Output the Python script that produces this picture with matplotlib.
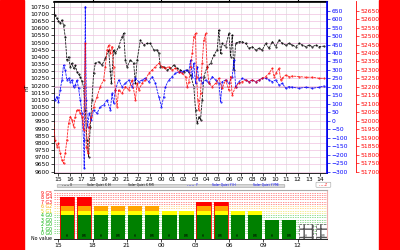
import numpy as np
import matplotlib
matplotlib.use("Agg")
import matplotlib.pyplot as plt
from matplotlib.patches import Rectangle, FancyBboxPatch
from matplotlib.lines import Line2D
from matplotlib.ticker import FuncFormatter

# Magnetometer components (hours from midnight of first day)
x_time = [14.57, 14.72, 14.87, 15.01, 15.16, 15.31, 15.45, 15.60, 15.75, 15.89,
          16.04, 16.19, 16.33, 16.48, 16.63, 16.77, 16.92, 17.07, 17.21, 17.36,
          17.51, 17.65, 17.80, 17.95, 18.09, 18.24, 18.53, 18.83, 19.12, 19.41,
          19.56, 19.65, 19.85, 20.00, 20.29, 20.59, 20.73, 20.88, 21.03, 21.32,
          21.61, 21.76, 21.91, 22.20, 22.49, 22.79, 23.08, 23.37, 23.67, 23.81,
          23.96, 24.25, 24.55, 24.84, 25.13, 25.43, 25.72, 26.01, 26.31, 26.60,
          26.89, 27.04, 27.19, 27.33, 27.48, 27.62, 27.77, 28.06, 28.36, 28.65,
          28.94, 29.09, 29.24, 29.38, 29.68, 29.97, 30.12, 30.26, 30.41, 30.56,
          30.85, 31.14, 31.44, 31.73, 32.02, 32.32, 32.61, 32.90, 33.20, 33.49,
          33.78, 34.08, 34.37, 34.66, 34.96, 35.25, 35.54, 35.84, 36.13, 36.42,
          36.72, 37.01, 37.30, 37.60, 37.89, 38.33]
x_nt = [10715, 10690, 10668, 10650, 10633, 10657, 10622, 10540, 10378, 10400,
        10331, 10355, 10320, 10340, 10297, 10280, 10262, 10230, 10192, 10029,
        9820, 9704, 9913, 10099, 10285, 10355, 10366, 10343, 10389, 10448,
        10300, 10215, 10448, 10424, 10471, 10540, 10564, 10378, 10331, 10378,
        10355, 10215, 10378, 10517, 10482, 10494, 10494, 10448, 10448, 10424,
        10331, 10331, 10308, 10320, 10343, 10320, 10308, 10297, 10308, 10273,
        10192, 10029, 9936, 9983, 9960, 10099, 10262, 10331, 10355, 10413,
        10448, 10587, 10424, 10494, 10471, 10564, 10401, 10552, 10308, 10494,
        10506, 10506, 10494, 10459, 10471, 10448, 10459, 10448, 10494, 10459,
        10506, 10471, 10517, 10494, 10482, 10494, 10482, 10471, 10494, 10482,
        10471, 10482, 10471, 10482, 10471, 10475]

y_time = [14.57, 14.72, 14.87, 15.01, 15.16, 15.31, 15.45, 15.60, 15.75, 15.89,
          16.04, 16.19, 16.33, 16.48, 16.63, 16.77, 16.92, 17.07, 17.21, 17.27,
          17.36, 17.45, 17.57, 17.71, 17.89, 18.09, 18.39, 18.68, 18.97, 19.27,
          19.56, 19.71, 19.85, 20.00, 20.29, 20.59, 20.88, 21.17, 21.47, 21.76,
          22.05, 22.35, 22.64, 22.93, 23.23, 23.52, 23.81, 24.05, 24.25, 24.40,
          24.69, 24.99, 25.28, 25.57, 25.87, 26.16, 26.45, 26.60, 26.75, 26.89,
          27.04, 27.19, 27.33, 27.48, 27.62, 27.92, 28.21, 28.50, 28.80, 29.09,
          29.24, 29.38, 29.68, 29.97, 30.26, 30.41, 30.56, 30.85, 31.14, 31.44,
          31.73, 32.02, 32.32, 32.61, 32.90, 33.20, 33.49, 33.78, 34.08, 34.37,
          34.66, 34.96, 35.25, 35.54, 36.13, 36.72, 37.30, 37.89, 38.33]
y_nt = [152, 123, 143, 113, 182, 241, 329, 300, 241, 251,
        231, 241, 202, 211, 241, 192, 123, 44, -113, -280,
        674, 123, -34, 44, 5, 64, 44, 84, 93, 123,
        64, 162, 103, 182, 241, 202, 221, 241, 202, 251,
        231, 241, 251, 231, 261, 221, 143, 84, 143, 202,
        241, 261, 280, 290, 290, 300, 290, 359, 261, 339,
        221, 320, 241, 261, 221, 241, 221, 261, 241, 221,
        113, 231, 241, 221, 261, 359, 202, 231, 251, 241,
        231, 241, 231, 241, 251, 251, 241, 231, 241, 211,
        221, 192, 202, 198, 192, 198, 192, 198, 206]

z_time = [14.57, 14.72, 14.87, 15.01, 15.16, 15.31, 15.45, 15.60, 15.75, 15.89,
          16.04, 16.19, 16.33, 16.48, 16.63, 16.77, 16.92, 17.07, 17.21, 17.36,
          17.45, 17.60, 17.71, 17.89, 18.09, 18.39, 18.68, 18.97, 19.12, 19.27,
          19.41, 19.56, 19.71, 19.85, 20.00, 20.15, 20.29, 20.59, 20.88, 21.17,
          21.47, 21.76, 21.91, 22.05, 22.35, 22.64, 22.93, 23.23, 23.52, 23.81,
          24.10, 24.40, 24.69, 24.99, 25.28, 25.57, 25.87, 26.16, 26.31, 26.45,
          26.60, 26.75, 26.89, 27.04, 27.13, 27.24, 27.33, 27.48, 27.62, 27.77,
          27.92, 28.06, 28.21, 28.50, 28.80, 29.09, 29.38, 29.68, 29.97, 30.12,
          30.26, 30.56, 30.85, 31.14, 31.44, 31.73, 32.02, 32.32, 32.61, 32.90,
          33.20, 33.49, 33.78, 33.93, 34.08, 34.37, 34.52, 34.66, 34.96, 35.25,
          35.54, 36.13, 36.72, 37.30, 37.89, 38.33]
z_nt = [51985, 51887, 51848, 51867, 51808, 51769, 51749, 51808, 51887, 51985,
        52025, 52005, 51966, 52025, 52064, 52064, 52044, 52025, 51946, 52457,
        51848, 51808, 51966, 52025, 52084, 52143, 52202, 52241, 52320, 52418,
        52447, 52398, 52438, 52320, 52182, 52084, 52182, 52162, 52202, 52182,
        52241, 52123, 52221, 52182, 52221, 52241, 52280, 52300, 52320, 52339,
        52320, 52310, 52320, 52300, 52310, 52290, 52280, 52261, 52202, 52231,
        52320, 52398, 52497, 52516, 52261, 52123, 52064, 52162, 52339, 52477,
        52516, 52320, 52221, 52202, 52221, 52251, 52192, 52241, 52182, 52261,
        52152, 52202, 52221, 52231, 52241, 52231, 52241, 52231, 52241, 52251,
        52261, 52280, 52310, 52261, 52280, 52310, 52241, 52251, 52270, 52261,
        52264, 52261, 52257, 52257, 52251, 52251]

# Activity bars, 3-hour slots, IH and FMI estimates
bar_start = [15, 16.5, 18, 19.5, 21, 22.5, 24, 25.5, 27, 28.5, 30, 31.5, 33, 34.5, 36, 37.5]
bar_source = ["IH", "FMI"] * 8
bar_level = [8, 8, 6, 6, 6, 6, 5, 5, 7, 7, 5, 5, 3, 3, None, None]
level_labels = ["No value", "0 G0", "1 G0", "2 G0", "3 G0", "4 G0",
                "5 G1", "6 G2", "7 G3", "8 G4", "9 G5"]
level_values = [-1, 0, 1, 2, 3, 4, 5, 6, 7, 8, 9]
bar_ticks = [15, 18, 21, 24, 27, 30, 33, 36]

GREEN = "#008000"
YELLOW = "#ffff00"
ORANGE = "#ffa500"
RED = "#ff0000"
FS = 4.3


def level_color(v):
    if v < 0:
        return "black"
    if v <= 4:
        return "#00b000"
    if v <= 5:
        return "#e6d000"
    if v <= 6:
        return ORANGE
    return RED


hour_fmt = FuncFormatter(lambda v, pos: f"{int(round(v)) % 24:02d}")

fig = plt.figure(figsize=(4, 2.5), dpi=100)
fig.patches.append(Rectangle((0, 0), 0.06, 1, transform=fig.transFigure, color=RED, zorder=-1))
fig.patches.append(Rectangle((0.948, 0), 0.052, 1, transform=fig.transFigure, color=RED, zorder=-1))

xlim = (14.58, 38.6)

# --- main magnetometer panel
ax = fig.add_axes([0.134, 0.31, 0.684, 0.684])
ax.set_xlim(*xlim)
ax.set_ylim(9594, 10786)
ax.set_yticks(np.arange(9600, 10751, 50))
ax.set_xticks(np.arange(15, 38.5, 1))
ax.xaxis.set_major_formatter(hour_fmt)
ax.tick_params(labelsize=FS, length=2, width=0.5, pad=1)
ax.set_ylabel("nT", fontsize=FS, labelpad=0.5)
ax.grid(axis="y", color="#f0c0e0", lw=0.5)
ax.grid(axis="x", color="#dddddd", lw=0.5)
ax.axhline(10500, color="#c8a0c8", lw=0.6, zorder=1)
for s in ax.spines.values():
    s.set_linewidth(0.6)
ax.spines["top"].set_linewidth(1.2)
ax.plot(x_time, x_nt, color="black", lw=0.6, ls=(0, (3, 1)), marker=".", ms=1.0, zorder=3, alpha=0.9)

top = ax.secondary_xaxis("top")
top.set_xticks([18, 24, 30, 36])
top.tick_params(length=2, width=0.8, labeltop=False)

axb = ax.twinx()
axb.set_ylim(-305, 704)
axb.set_yticks(np.arange(-300, 651, 50))
axb.tick_params(labelsize=FS, length=2, width=0.5, pad=1, colors="blue")
axb.spines["right"].set_color("blue")
axb.spines["right"].set_linewidth(1.2)
axb.axhline(200, color="#c8a0c8", lw=0.6, zorder=1)
axb.plot(y_time, y_nt, color="blue", lw=0.6, ls=(0, (3, 1)), marker=".", ms=1.0, zorder=3, alpha=0.9)

axr = ax.twinx()
axr.set_ylim(51695, 52704)
axr.set_yticks(np.arange(51700, 52651, 50))
axr.spines["right"].set_position(("axes", 1.106))
axr.spines["right"].set_color(RED)
axr.spines["right"].set_linewidth(0.6)
axr.tick_params(labelsize=FS, length=2, width=0.5, pad=1, colors=RED)
axr.plot(z_time, z_nt, color=RED, lw=0.6, ls=(0, (3, 1)), marker=".", ms=1.0, zorder=3, alpha=0.85)
for a in (axb, axr):
    a.spines["left"].set_visible(False)
    a.spines["top"].set_visible(False)
    a.spines["bottom"].set_visible(False)

# legend strip under the time axis
LEG_Y = 0.262
fig.patches.append(FancyBboxPatch((0.145, 0.252), 0.565, 0.008, boxstyle="round,pad=0.002",
                                  transform=fig.transFigure, fc="#d8d8d8", ec="#a0a0a0", lw=0.4))
legend_lines = [(0.155, 0.172, "black"), (0.467, 0.484, "blue"), (0.797, 0.81, RED)]
for x0, x1, col in legend_lines:
    fig.lines.append(Line2D([x0, x1], [LEG_Y, LEG_Y], transform=fig.transFigure,
                            color=col, lw=0.4, ls=":"))
legend_items = [(0.176, "X", "black"), (0.218, "Solar Quiet X IH", "black"),
                (0.32, "Solar Quiet X FMI", "black"), (0.488, "Y", "blue"),
                (0.53, "Solar Quiet Y IH", "blue"), (0.633, "Solar Quiet Y FMI", "blue")]
for xpos, txt, col in legend_items:
    fig.text(xpos, LEG_Y, txt, fontsize=2.2, color=col, va="center")
fig.patches.append(FancyBboxPatch((0.792, 0.253), 0.033, 0.016, boxstyle="round,pad=0.002",
                                  transform=fig.transFigure, fc="white", ec="#a0a0a0", lw=0.4))
fig.text(0.813, LEG_Y, "Z", fontsize=2.2, color=RED, va="center")

# --- activity panel
ax2 = fig.add_axes([0.134, 0.044, 0.684, 0.196])
ax2.set_xlim(*xlim)
ax2.set_ylim(-1.3, 9.6)
for lev in np.arange(0, 9.01, 0.5):
    ax2.axhline(lev, color=level_color(lev), lw=0.5, ls=(0, (2, 1.5)), alpha=0.6, zorder=0)

bottom = ax2.get_ylim()[0]
bands = [(bottom, 4, GREEN), (4, 5, YELLOW), (5, 6, ORANGE), (6, 10, RED)]
for start, src, lev in zip(bar_start, bar_source, bar_level):
    left = start + 0.12
    width = 1.25
    if lev is None:
        ax2.bar(left, 2 - bottom, width=width, bottom=bottom, align="edge", fc="white",
                ec="#555555", hatch="++", lw=0.5, ls="--", zorder=2)
        ax2.text(left + width / 2, -0.7, src, fontsize=2.2, ha="center", va="center", color="#555555", zorder=4)
        continue
    for lo, hi, col in bands:
        if lev > lo:
            ax2.bar(left, min(lev, hi) - lo, width=width, bottom=lo, align="edge",
                    color=col, lw=0, zorder=2)
    if lev >= 7:
        ax2.bar(left, lev - bottom, width=width, bottom=bottom, align="edge", fill=False,
                ec=RED, lw=0.6, zorder=3)
    ax2.text(left + width / 2, -0.7, src, fontsize=2.2, ha="center", va="center", color="black", zorder=4)

ax2.set_yticks(level_values)
ax2.set_yticklabels(level_labels)
for lbl, v in zip(ax2.get_yticklabels(), level_values):
    lbl.set_color(level_color(v))
ax2.set_xticks(bar_ticks)
ax2.xaxis.set_major_formatter(hour_fmt)
ax2.tick_params(axis="y", labelsize=3.4, length=0, pad=1)
ax2.tick_params(axis="x", labelsize=FS, length=2, width=0.5, pad=1)
ax2.spines["left"].set_visible(False)
ax2.spines["top"].set_color("#aaaaaa")
ax2.spines["right"].set_color("#f0b0b0")
ax2.spines["bottom"].set_linewidth(0.6)

fig.savefig("out.png", dpi=100)
